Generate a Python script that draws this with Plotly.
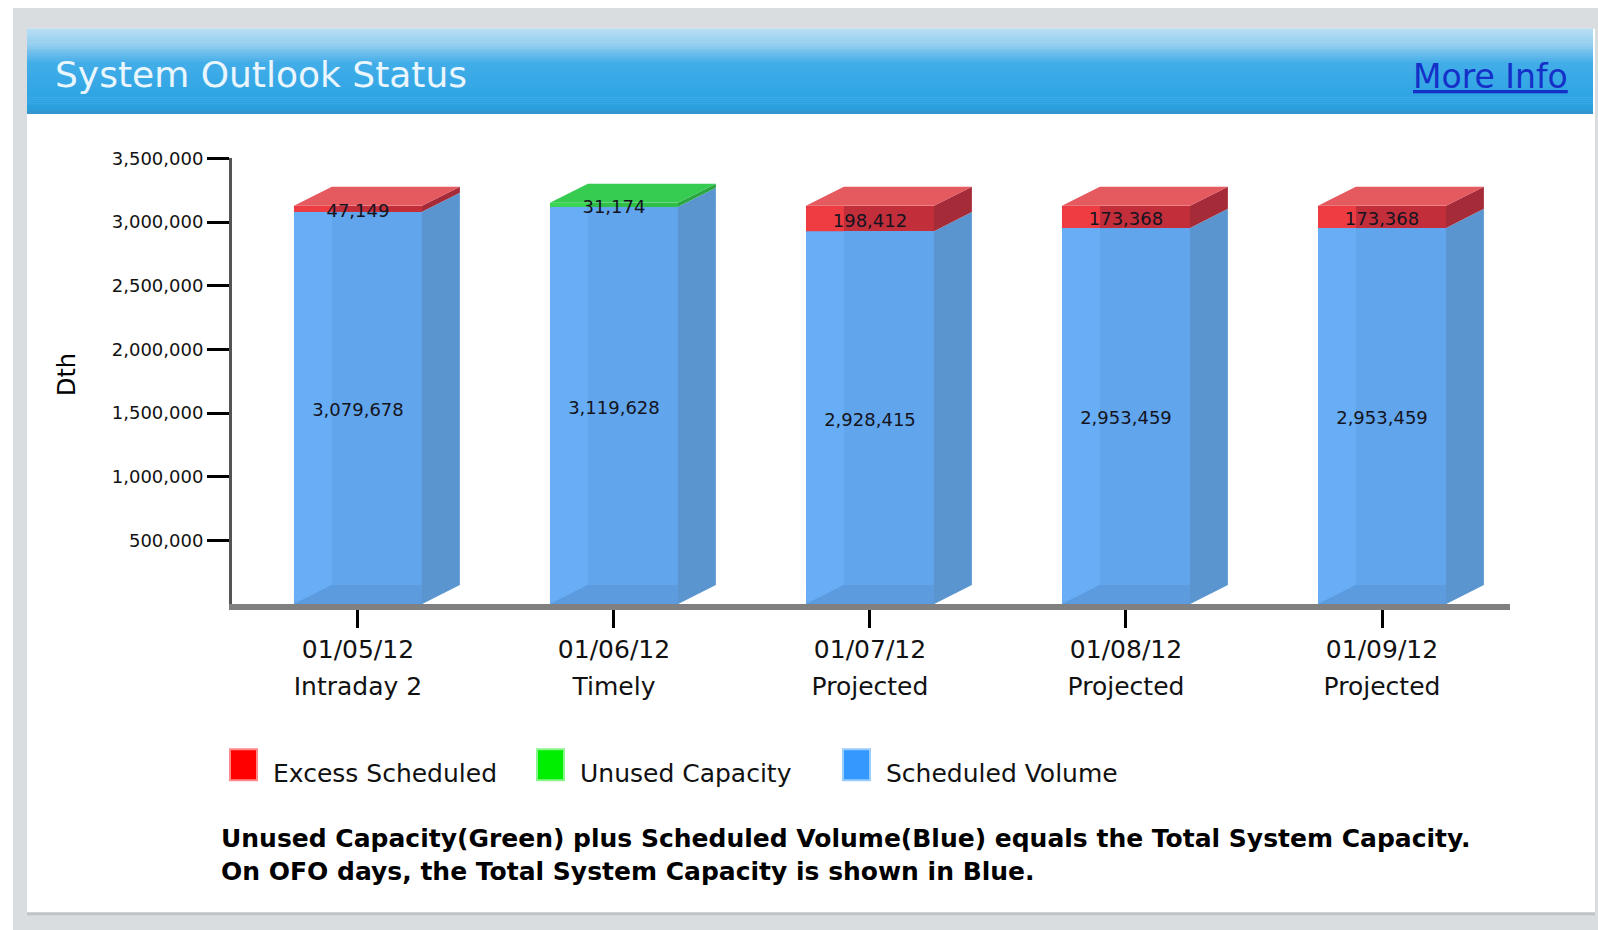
import plotly.graph_objects as go

# ---------------- data ----------------
dates = ["01/05/12", "01/06/12", "01/07/12", "01/08/12", "01/09/12"]
statuses = ["Intraday 2", "Timely", "Projected", "Projected", "Projected"]
scheduled_volume = [3079678, 3119628, 2928415, 2953459, 2953459]
excess_scheduled = [47149, 0, 198412, 173368, 173368]
unused_capacity = [0, 31174, 0, 0, 0]
y_tick_values = [500000, 1000000, 1500000, 2000000, 2500000, 3000000, 3500000]
legend_labels = ["Excess Scheduled", "Unused Capacity", "Scheduled Volume"]
caption_lines = [
    "Unused Capacity(Green) plus Scheduled Volume(Blue) equals the Total System Capacity.",
    "On OFO days, the Total System Capacity is shown in Blue.",
]

# ---------------- geometry / style ----------------
W, H = 1598, 930
FONT = "DejaVu Sans"
Y_OFF, Y_SC = 11.0, 0.988   # empirical vertical calibration of the rendered page


def px(x):
    return x / W


def py(y):
    return 1 - ((y - Y_OFF) / Y_SC) / H


Y_MAX = 3500000
PLOT_TOP, PLOT_BOTTOM = 158.3, 604
VALUE_PER_PX = Y_MAX / ((PLOT_BOTTOM - PLOT_TOP) / Y_SC)
LABEL_DROP = 4 * VALUE_PER_PX   # value labels sit a few pixels below segment centre

BAR_W = 0.5
DX = 0.148      # 3-D depth along category axis
DY = 150000     # 3-D depth along value axis

STYLE = {
    "blue": dict(front="#61a5ed", strip="#68aef7", side="#5a95cf", top="#7db8f2", bottom="#5b9bde"),
    "red": dict(front="#c32e3b", strip="#ee3c42", side="#a62b38", top="#e45a5f"),
    "green": dict(front="#2fbf48", strip="#3bd654", side="#29a63e", top="#36cc52"),
}

fig = go.Figure()
idx = list(range(len(dates)))

# front faces (real bars)
fig.add_trace(go.Bar(x=idx, y=scheduled_volume, width=BAR_W, name=legend_labels[2],
                     marker=dict(color=STYLE["blue"]["front"], line=dict(width=0)),
                     showlegend=False, hoverinfo="skip"))
fig.add_trace(go.Bar(x=idx, y=excess_scheduled, width=BAR_W, name=legend_labels[0],
                     marker=dict(color=STYLE["red"]["front"], line=dict(width=0)),
                     showlegend=False, hoverinfo="skip"))
fig.add_trace(go.Bar(x=idx, y=unused_capacity, width=BAR_W, name=legend_labels[1],
                     marker=dict(color=STYLE["green"]["front"], line=dict(width=0)),
                     showlegend=False, hoverinfo="skip"))


def poly(xs, ys, color):
    fig.add_trace(go.Scatter(x=xs + [xs[0]], y=ys + [ys[0]], mode="lines", fill="toself",
                             fillcolor=color, line=dict(width=0, color=color),
                             showlegend=False, hoverinfo="skip"))


label_x, label_y, label_t = [], [], []
for i in idx:
    x0, x1 = i - BAR_W / 2, i + BAR_W / 2
    segs = [(0, scheduled_volume[i], "blue")]
    base = scheduled_volume[i]
    if excess_scheduled[i] > 0:
        segs.append((base, base + excess_scheduled[i], "red"))
        base += excess_scheduled[i]
    if unused_capacity[i] > 0:
        segs.append((base, base + unused_capacity[i], "green"))
        base += unused_capacity[i]
    for k, (y0, y1, c) in enumerate(segs):
        st = STYLE[c]
        if c == "blue":
            poly([x0, x0 + DX, x0 + DX, x0], [0, DY, y1, y1], st["strip"])
            poly([x0, x1, x1, x0 + DX], [0, 0, DY, DY], st["bottom"])
        else:
            poly([x0, x0 + DX, x0 + DX, x0], [y0, y0, y1, y1], st["strip"])
        poly([x1, x1 + DX, x1 + DX, x1], [y0, y0 + DY, y1 + DY, y1], st["side"])
        if k == len(segs) - 1:
            poly([x0, x1, x1 + DX, x0 + DX], [y1, y1, y1 + DY, y1 + DY], st["top"])
        label_x.append(i)
        label_y.append((y0 + y1) / 2 - LABEL_DROP)
        label_t.append(f"{(y1 - y0):,}")

# value labels (placed on the overlaying x axis, which carries the status labels)
fig.add_trace(go.Scatter(x=label_x, y=label_y, text=label_t, mode="text", xaxis="x2", yaxis="y",
                         textfont=dict(family=FONT, size=18, color="#141420"),
                         showlegend=False, hoverinfo="skip", cliponaxis=False))

# ---------------- page decoration ----------------
shapes = []
shapes.append(dict(type="rect", xref="paper", yref="paper", x0=px(13), x1=1, y0=0, y1=py(8),
                   fillcolor="#d9dde0", line=dict(width=0), layer="below"))
shapes.append(dict(type="rect", xref="paper", yref="paper", x0=px(27), x1=px(1595), y0=py(915), y1=py(28.5),
                   fillcolor="#bfc3c6", line=dict(width=0), layer="below"))
shapes.append(dict(type="rect", xref="paper", yref="paper", x0=px(27), x1=px(1595), y0=py(912), y1=py(28.5),
                   fillcolor="#ffffff", line=dict(width=0), layer="below"))


def hex2rgb(h):
    h = h.lstrip("#")
    return [int(h[j:j + 2], 16) for j in (0, 2, 4)]


stops = [(0.0, "#b9def3"), (0.18, "#97cff0"), (0.42, "#42ade8"), (0.9, "#2ba3e3"), (1.0, "#2b9cda")]
HY0, HY1, N = 28.5, 111, 42
for s in range(N):
    t = (s + 0.5) / N
    for a in range(len(stops) - 1):
        if stops[a][0] <= t <= stops[a + 1][0]:
            f = (t - stops[a][0]) / (stops[a + 1][0] - stops[a][0])
            c0, c1 = hex2rgb(stops[a][1]), hex2rgb(stops[a + 1][1])
            col = "rgb(%d,%d,%d)" % tuple(round(c0[j] + (c1[j] - c0[j]) * f) for j in range(3))
            break
    ya = HY0 + (HY1 - HY0) * s / N
    yb = HY0 + (HY1 - HY0) * (s + 1) / N
    shapes.append(dict(type="rect", xref="paper", yref="paper", x0=px(27), x1=px(1593),
                       y0=py(yb + 0.6), y1=py(ya), fillcolor=col, line=dict(width=0), layer="below"))
shapes.append(dict(type="rect", xref="paper", yref="paper", x0=px(27), x1=px(1593), y0=py(114), y1=py(111),
                   fillcolor="#3494cc", line=dict(width=0), layer="below"))

# legend swatches
legend_colors = ["#ff0000", "#00ee00", "#3399ff"]
legend_border = ["#ff8a8a", "#8af58a", "#99ccff"]
legend_x = [230, 537, 843]
annotations = []
for lx, lc, lb, lt in zip(legend_x, legend_colors, legend_border, legend_labels):
    shapes.append(dict(type="rect", xref="paper", yref="paper", x0=px(lx), x1=px(lx + 27),
                       y0=py(780), y1=py(749), fillcolor=lc, line=dict(width=2, color=lb)))
    annotations.append(dict(x=px(lx + 41), y=py(773.5), xref="paper", yref="paper", text=lt,
                            showarrow=False, xanchor="left", yanchor="middle",
                            font=dict(family=FONT, size=25, color="#111111")))

annotations.append(dict(x=px(53), y=py(74.5), xref="paper", yref="paper", text="System Outlook Status",
                        showarrow=False, xanchor="left", yanchor="middle",
                        font=dict(family=FONT, size=36, color="#eaf6fd")))
annotations.append(dict(x=px(1570), y=py(76.5), xref="paper", yref="paper", text="<u>More Info</u>",
                        showarrow=False, xanchor="right", yanchor="middle",
                        font=dict(family=FONT, size=33, color="#1530c8")))
annotations.append(dict(x=px(67), y=py(375), xref="paper", yref="paper", text="Dth", textangle=-90,
                        showarrow=False, xanchor="center", yanchor="middle",
                        font=dict(family=FONT, size=24, color="#000000")))
for line_text, line_y in zip(caption_lines, [838, 871.5]):
    annotations.append(dict(x=px(219), y=py(line_y), xref="paper", yref="paper", text=line_text,
                            showarrow=False, xanchor="left", yanchor="middle", align="left",
                            font=dict(family=FONT, size=25, color="#000000", weight="bold")))

X_RANGE = [-0.492, 4.5]
X_DOMAIN = [px(232), px(1510)]
fig.update_layout(
    width=W, height=H, margin=dict(l=0, r=0, t=0, b=0),
    paper_bgcolor="#ffffff", plot_bgcolor="rgba(0,0,0,0)",
    barmode="stack", showlegend=False,
    shapes=shapes, annotations=annotations,
    font=dict(family=FONT, color="#000000"),
    xaxis=dict(domain=X_DOMAIN, range=X_RANGE,
               tickvals=idx, ticktext=dates,
               tickfont=dict(family=FONT, size=25, color="#111111"),
               ticks="outside", ticklen=18, tickwidth=3, tickcolor="#000000",
               showline=True, linewidth=6, linecolor="#808080",
               showgrid=False, zeroline=False, fixedrange=True),
    xaxis2=dict(overlaying="x", anchor="y", side="bottom", domain=X_DOMAIN, range=X_RANGE,
                tickvals=idx, ticktext=statuses,
                tickfont=dict(family=FONT, size=25, color="#111111"),
                ticks="", showline=False, ticklabelstandoff=65,
                showgrid=False, zeroline=False, fixedrange=True),
    yaxis=dict(domain=[py(PLOT_BOTTOM), py(PLOT_TOP)], range=[0, Y_MAX],
               tickvals=y_tick_values, tickformat=",d",
               tickfont=dict(family=FONT, size=18, color="#111111"),
               ticks="outside", ticklen=22, tickwidth=3, tickcolor="#000000",
               showline=True, linewidth=3, linecolor="#555555",
               showgrid=False, zeroline=False, fixedrange=True),
)

fig.write_html("out.html", config={"displayModeBar": False},
               post_script="document.body.style.margin='0';document.body.style.overflow='hidden';")
